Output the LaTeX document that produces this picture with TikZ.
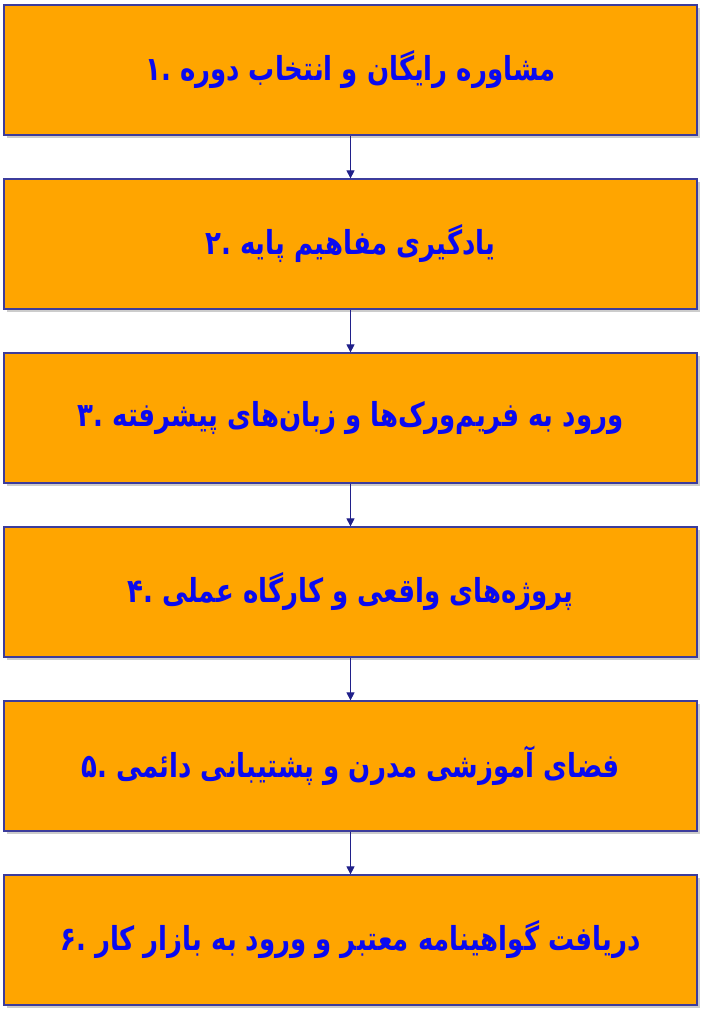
\documentclass[tikz,border=0pt]{standalone}
\usepackage{fontspec}
\usetikzlibrary{arrows.meta,shadows}
\newfontfamily\arabicfont[Script=Arabic]{DejaVu Sans}
\TeXXeTstate=1
\definecolor{stepfill}{HTML}{FFA500}
\definecolor{stepline}{HTML}{3C3C9C}
\definecolor{steptext}{HTML}{0A0AF0}
\definecolor{arrowline}{HTML}{20208A}
\newcommand{\steplabel}[2]{\scalebox{1.04}[1.32]{\beginR #1 \beginL#2\kern0pt.\endL\endR}}

\begin{document}
\begin{tikzpicture}[x=1pt, y=-1pt]
	\tikzset{step box/.style={draw=stepline, line width=1.2pt, fill=stepfill,
			minimum width=693pt, minimum height=130pt, inner sep=0pt,
			drop shadow={shadow xshift=3pt, shadow yshift=-3pt, opacity=0.4},
			text=steptext, font=\arabicfont\bfseries\fontsize{25}{30}\selectfont},
		step arrow/.style={draw=arrowline, line width=0.8pt,
			-{Triangle[length=8pt, width=8pt]}}}
	\useasboundingbox (0, 0) rectangle (714, 1024);

	\node[step box] (1) at (350.5, 70) {\steplabel{مشاوره رایگان و انتخاب دوره}{۱}};
	\node[step box] (2) at (350.5, 244) {\steplabel{یادگیری مفاهیم پایه}{۲}};
	\node[step box] (3) at (350.5, 418) {\steplabel{ورود به فریم‌ورک‌ها و زبان‌های پیشرفته}{۳}};
	\node[step box] (4) at (350.5, 592) {\steplabel{پروژه‌های واقعی و کارگاه عملی}{۴}};
	\node[step box] (5) at (350.5, 766) {\steplabel{فضای آموزشی مدرن و پشتیبانی دائمی}{۵}};
	\node[step box] (6) at (350.5, 940) {\steplabel{دریافت گواهینامه معتبر و ورود به بازار کار}{۶}};

	\draw[step arrow] (1) -- (2);
	\draw[step arrow] (2) -- (3);
	\draw[step arrow] (3) -- (4);
	\draw[step arrow] (4) -- (5);
	\draw[step arrow] (5) -- (6);
\end{tikzpicture}
\end{document}
